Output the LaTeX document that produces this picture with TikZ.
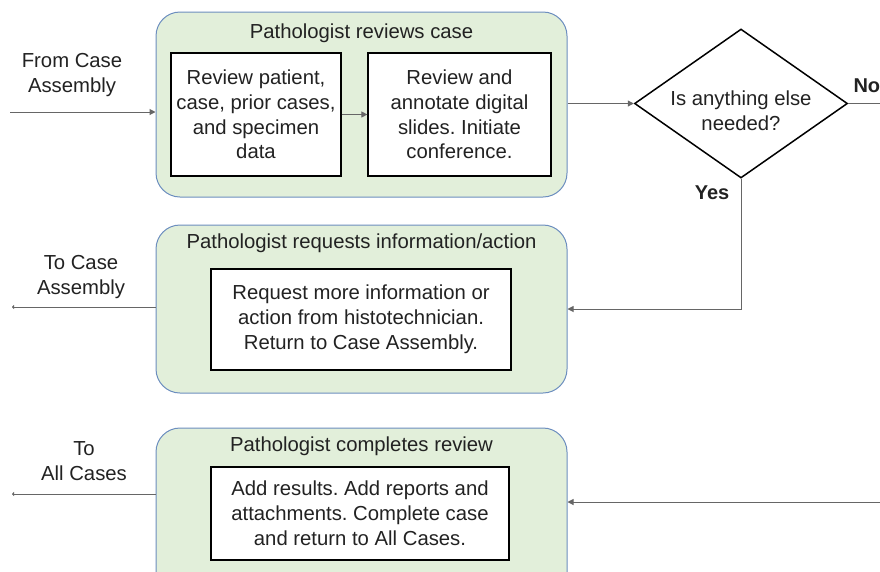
\documentclass[tikz,border=0pt]{standalone}
\usepackage{fontspec}
\setmainfont{Liberation Sans}
\usetikzlibrary{shapes.geometric,arrows.meta,positioning,calc}
\definecolor{stagefill}{HTML}{E2EFDA}
\definecolor{stageline}{HTML}{6C8EBF}
\definecolor{flowline}{HTML}{666666}
\definecolor{inktext}{HTML}{222222}
\frenchspacing

\begin{document}
\begin{tikzpicture}[x=1pt, y=-1pt,
    font=\fontsize{20.3}{24.8}\selectfont,
    stage/.style={rectangle, draw=stageline, line width=1pt, fill=stagefill, rounded corners=24pt, minimum width=411pt},
    stagetitle/.style={text=inktext},
    task/.style={rectangle, draw=black, line width=1.2pt, fill=white, align=center, text=inktext, inner sep=0pt},
    decision/.style={diamond, draw=black, line width=1.5pt, fill=white, inner sep=0pt, minimum width=213pt, minimum height=149pt},
    arrow/.style={-{Triangle[length=6pt,width=6pt]}, draw=flowline, line width=1pt},
    exit/.style={-{Triangle[length=2pt,width=4pt]}, draw=flowline, line width=1pt},
    side/.style={align=center, text=inktext},
    answer/.style={font=\fontsize{20}{24}\selectfont\bfseries, text=inktext}
]
    \clip (0,0) rectangle (880,571);

    % first stage: review
    \node[stage, minimum height=185pt] (review) at (361.5,104.5) {};
    \node[stagetitle] (reviewtitle) at (361.5,33) {Pathologist reviews case};
    \node[task, minimum width=170pt, minimum height=123pt] (patient) at (256,114.5) {Review patient,\\case, prior cases,\\and specimen\\data};
    \node[task, minimum width=183pt, minimum height=123pt] (slides) at (459.5,114.5) {Review and\\annotate digital\\slides. Initiate\\conference.};

    % decision
    \node[decision] (anything) at (741,103.5) {};
    \node[align=center, text=inktext] (question) at (741,111) {Is anything else\\needed?};
    \node[answer, anchor=west] (no) at (850,86) {No};
    \node[answer] (yes) at (712,193) {Yes};

    % second stage: request
    \node[stage, minimum height=168pt] (request) at (361.5,309) {};
    \node[stagetitle] (requesttitle) at (361.5,243) {Pathologist requests information/action};
    \node[task, minimum width=300pt, minimum height=101pt] (histo) at (361,319.5) {Request more information or\\action from histotechnician.\\Return to Case Assembly.};

    % third stage: complete
    \node[stage, minimum height=176pt] (complete) at (361.5,516) {};
    \node[stagetitle] (completetitle) at (361.5,446) {Pathologist completes review};
    \node[task, minimum width=298pt, minimum height=93pt] (results) at (360,513.5) {Add results. Add reports and\\attachments. Complete case\\and return to All Cases.};

    % side labels
    \node[side] (fromlabel) at (72,75) {From Case\\Assembly};
    \node[side] (tocalabel) at (81,277) {To Case\\Assembly};
    \node[side] (toalllabel) at (84,461) {To\\All Cases};

    \coordinate (fromca) at (10,112);
    \coordinate (toca) at (12,307);
    \coordinate (toall) at (12,494);
    \coordinate (noout) at (880,103.5);
    \coordinate (noin) at (880,502);

    \draw[arrow] (fromca) -- (fromca -| review.west);
    \draw[arrow] (patient) -- (slides);
    \draw[arrow] (review.east |- anything.west) -- (anything.west);
    \draw[draw=flowline, line width=1pt] (anything.east) -- (noout);
    \draw[arrow] (anything.south) |- (request.east);
    \draw[exit] (toca -| request.west) -- (toca);
    \draw[arrow] (noin) -- (noin -| complete.east);
    \draw[exit] (toall -| complete.west) -- (toall);
\end{tikzpicture}
\end{document}
